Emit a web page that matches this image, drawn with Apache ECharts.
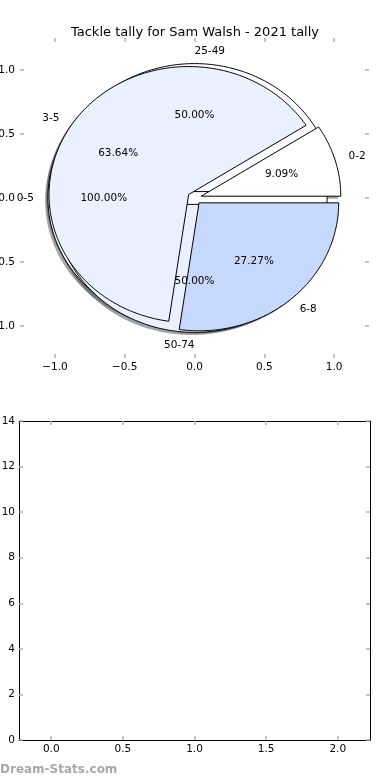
<!DOCTYPE html>
<html>
<head>
<meta charset="utf-8">
<script src="https://cdn.jsdelivr.net/npm/echarts@6/dist/echarts.min.js"></script>
<style>
html,body{margin:0;padding:0;background:#fff;}
#main{width:390px;height:780px;}
</style>
</head>
<body>
<div id="main"></div>
<script>
// ---- data ----
const titleText = 'Tackle tally for Sam Walsh - 2021 tally';
const pieACats = ['0-5'];
const pieAValues = [1];
const pieBCats = ['0-2', '3-5', '6-8'];
const pieBValues = [1, 7, 3];
const pieCCats = ['25-49', '50-74'];
const pieCValues = [1, 1];
const pieTicks = [-1.0, -0.5, 0.0, 0.5, 1.0];
const barCats = [0, 1, 2];
const barValues = [0, 0, 0];
const barXTicks = [0.0, 0.5, 1.0, 1.5, 2.0];
const barYTicks = [0, 2, 4, 6, 8, 10, 12, 14];
const watermark = 'Dream-Stats.com';

// ---- styles ----
const sliceColors = ['#ffffff', '#eaf0fe', '#c6d9fd'];
const FONT = 'DejaVu Sans';
const EXPLODE = 0.05, RADIUS = 1, LABEL_DIST = 1.1, PCT_DIST = 0.6;

function shadeOf(hex) {
  const n = parseInt(hex.slice(1), 16);
  const r = Math.round(((n >> 16) & 255) * 0.3), g = Math.round(((n >> 8) & 255) * 0.3), b = Math.round((n & 255) * 0.3);
  return 'rgba(' + r + ',' + g + ',' + b + ',0.5)';
}

function wedgeGeom(values, idx) {
  const total = values.reduce((a, b) => a + b, 0);
  let acc = 0;
  for (let i = 0; i < idx; i++) acc += values[i];
  const t1 = acc / total * 360, t2 = (acc + values[idx]) / total * 360;
  const tm = (t1 + t2) / 2 * Math.PI / 180;
  return { t1, t2, tm, cx: EXPLODE * Math.cos(tm), cy: EXPLODE * Math.sin(tm), pct: values[idx] / total * 100 };
}

function wedgePoints(api, g, ox, oy) {
  const pts = [];
  const full = (g.t2 - g.t1) >= 359.999;
  if (!full) pts.push(api.coord([g.cx + ox, g.cy + oy]));
  const n = Math.max(4, Math.ceil((g.t2 - g.t1) / 1));
  for (let k = 0; k <= n; k++) {
    const a = (g.t1 + (g.t2 - g.t1) * k / n) * Math.PI / 180;
    pts.push(api.coord([g.cx + ox + RADIUS * Math.cos(a), g.cy + oy + RADIUS * Math.sin(a)]));
  }
  return pts;
}

function wedgeSeries(values, z) {
  return {
    type: 'custom', xAxisIndex: 0, yAxisIndex: 0, z: z, silent: true,
    data: values.map((v, i) => [i, v]),
    encode: { x: -1, y: -1 },
    renderItem: function (params, api) {
      const g = wedgeGeom(values, params.dataIndex);
      return {
        type: 'polygon',
        shape: { points: wedgePoints(api, g, 0, 0) },
        style: { fill: sliceColors[params.dataIndex % sliceColors.length], stroke: '#000', lineWidth: 1 }
      };
    }
  };
}

function shadowSeries(values, z) {
  return {
    type: 'custom', xAxisIndex: 0, yAxisIndex: 0, z: z, silent: true,
    data: values.map((v, i) => [i, v]),
    encode: { x: -1, y: -1 },
    renderItem: function (params, api) {
      const g = wedgeGeom(values, params.dataIndex);
      return {
        type: 'polygon',
        shape: { points: wedgePoints(api, g, -0.02, -0.02) },
        style: { fill: shadeOf(sliceColors[params.dataIndex % sliceColors.length]), stroke: 'none' }
      };
    }
  };
}

function labelSeries(values, cats, z) {
  return {
    type: 'custom', xAxisIndex: 0, yAxisIndex: 0, z: z, silent: true,
    data: values.map((v, i) => [i, v]),
    encode: { x: -1, y: -1 },
    renderItem: function (params, api) {
      const g = wedgeGeom(values, params.dataIndex);
      const c = Math.cos(g.tm), s = Math.sin(g.tm);
      const lp = api.coord([g.cx + LABEL_DIST * RADIUS * c, g.cy + LABEL_DIST * RADIUS * s]);
      const pp = api.coord([g.cx + PCT_DIST * RADIUS * c, g.cy + PCT_DIST * RADIUS * s]);
      return {
        type: 'group',
        children: [
          { type: 'text', x: lp[0], y: lp[1], style: { text: cats[params.dataIndex], fill: '#000', font: '10.5px "' + FONT + '"', align: c < 0 ? 'right' : 'left', verticalAlign: 'middle' } },
          { type: 'text', x: pp[0], y: pp[1], style: { text: g.pct.toFixed(2) + '%', fill: '#000', font: '10.5px "' + FONT + '"', align: 'center', verticalAlign: 'middle' } }
        ]
      };
    }
  };
}

function fmt1(v) { return (v < 0 ? '\u2212' : '') + Math.abs(v).toFixed(1); }

const tickStyle = { show: true, inside: true, length: 4, lineStyle: { color: '#b0b0b0', width: 1.5 } };
const labelFont = { color: '#000', fontFamily: FONT, fontSize: 10.5 };
const hiddenLine = { show: true, onZero: false, lineStyle: { color: 'rgba(0,0,0,0)', width: 1 } };
const frameLine = { show: true, onZero: false, lineStyle: { color: '#000', width: 1 } };

const chart = echarts.init(document.getElementById('main'), null, { renderer: 'canvas' });
chart.setOption({
  backgroundColor: '#ffffff',
  animation: false,
  title: { text: titleText, left: 'center', top: 21, textStyle: { fontFamily: FONT, fontSize: 13, fontWeight: 'normal', color: '#000' } },
  graphic: [{ type: 'text', left: 0, top: 764, style: { text: watermark, fill: '#a8a8a8', font: 'bold 12px "' + FONT + '"' } }],
  grid: [
    { left: 20, right: 21, top: 38, height: 320, outerBoundsMode: 'none', containLabel: false },
    { left: 19, right: 20, top: 421, height: 319, outerBoundsMode: 'none', containLabel: false }
  ],
  xAxis: [
    { gridIndex: 0, type: 'value', position: 'bottom', min: -1.25, max: 1.25, splitLine: { show: false }, axisLine: hiddenLine,
      axisTick: Object.assign({ customValues: pieTicks }, tickStyle), axisLabel: Object.assign({ customValues: pieTicks, formatter: fmt1, margin: 4 }, labelFont) },
    { gridIndex: 0, type: 'value', position: 'top', min: -1.25, max: 1.25, splitLine: { show: false }, axisLine: hiddenLine,
      axisTick: Object.assign({ customValues: pieTicks }, tickStyle), axisLabel: { show: false } },
    { gridIndex: 1, type: 'value', position: 'bottom', min: -0.225, max: 2.225, splitLine: { show: false }, axisLine: frameLine,
      axisTick: Object.assign({ customValues: barXTicks }, tickStyle), axisLabel: Object.assign({ customValues: barXTicks, formatter: fmt1, margin: 4 }, labelFont) },
    { gridIndex: 1, type: 'value', position: 'top', min: -0.225, max: 2.225, splitLine: { show: false }, axisLine: frameLine,
      axisTick: Object.assign({ customValues: barXTicks }, tickStyle), axisLabel: { show: false } }
  ],
  yAxis: [
    { gridIndex: 0, type: 'value', position: 'left', min: -1.25, max: 1.25, splitLine: { show: false }, axisLine: hiddenLine,
      axisTick: Object.assign({ customValues: pieTicks }, tickStyle), axisLabel: Object.assign({ customValues: pieTicks, formatter: fmt1, margin: 5 }, labelFont) },
    { gridIndex: 0, type: 'value', position: 'right', min: -1.25, max: 1.25, splitLine: { show: false }, axisLine: hiddenLine,
      axisTick: Object.assign({ customValues: pieTicks }, tickStyle), axisLabel: { show: false } },
    { gridIndex: 1, type: 'value', position: 'left', min: 0, max: 14, interval: 2, splitLine: { show: false }, axisLine: frameLine,
      axisTick: Object.assign({ customValues: barYTicks }, tickStyle), axisLabel: Object.assign({ customValues: barYTicks, margin: 4 }, labelFont) },
    { gridIndex: 1, type: 'value', position: 'right', min: 0, max: 14, interval: 2, splitLine: { show: false }, axisLine: frameLine,
      axisTick: Object.assign({ customValues: barYTicks }, tickStyle), axisLabel: { show: false } }
  ],
  series: [
    shadowSeries(pieAValues, 1),
    shadowSeries(pieCValues, 1),
    shadowSeries(pieBValues, 1),
    wedgeSeries(pieAValues, 2),
    wedgeSeries(pieCValues, 3),
    wedgeSeries(pieBValues, 4),
    labelSeries(pieAValues, pieACats, 10),
    labelSeries(pieBValues, pieBCats, 10),
    labelSeries(pieCValues, pieCCats, 10),
    { type: 'bar', xAxisIndex: 2, yAxisIndex: 2, data: barCats.map((c, i) => [c, barValues[i]]), barWidth: 20, itemStyle: { color: '#c6d9fd' } }
  ]
});
</script>
</body>
</html>
